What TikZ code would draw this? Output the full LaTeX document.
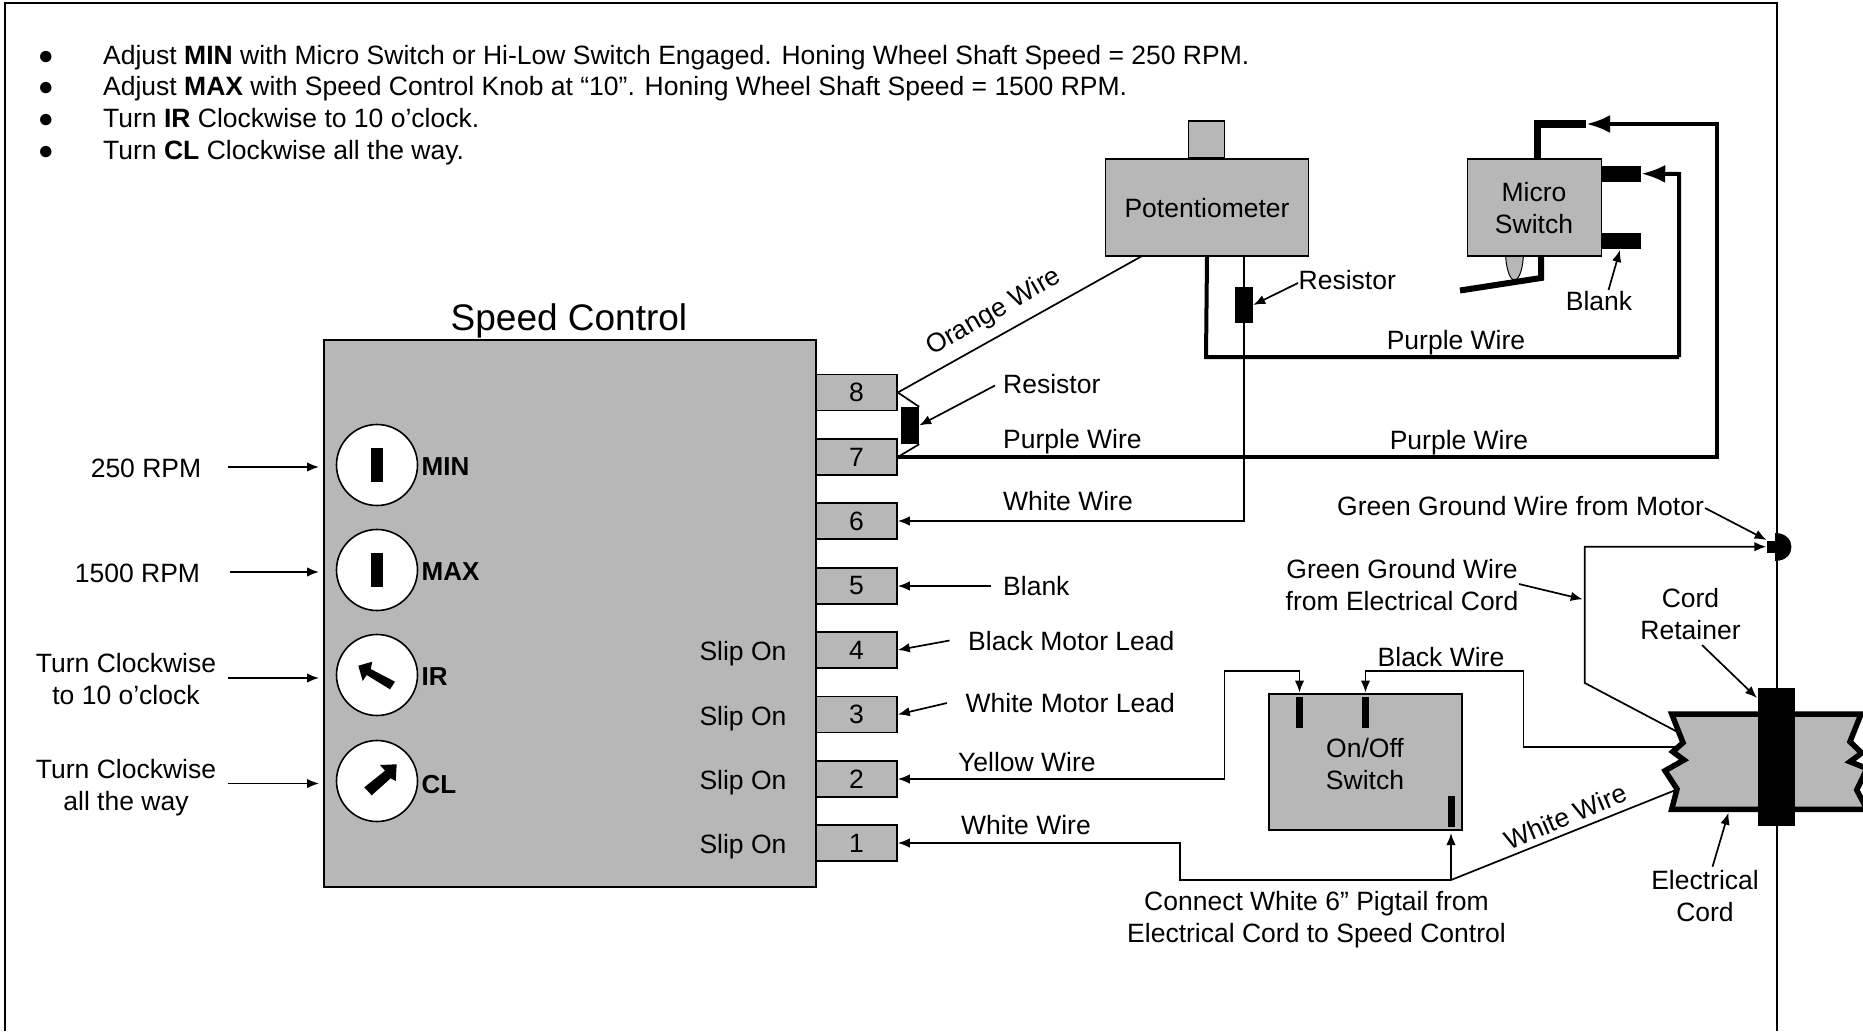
\documentclass[tikz,border=0pt]{standalone}
\usepackage{fontspec}
\setmainfont{Liberation Sans}
\usetikzlibrary{arrows.meta}

\tikzset{
	txt/.style={inner sep=0pt, font=\fontsize{26.5}{32}\selectfont, align=center},
	bulletmark/.style={inner sep=0pt, font=\fontsize{26.5}{32}\selectfont},
	graybox/.style={draw=black, fill=boxgray, line width=1.6pt, inner sep=0pt, rectangle},
	termbox/.style={graybox, minimum width=81pt, minimum height=36pt},
	dial/.style={draw=black, fill=white, line width=1.6pt, circle, minimum size=81pt, inner sep=0pt},
	blackbar/.style={fill=black, inner sep=0pt, rectangle},
	wire/.style={line width=1.7pt},
	bigwire/.style={line width=4pt},
	tipwire/.style={wire, -{Latex[length=12pt,width=9.5pt]}},
	starttip/.style={wire, {Latex[length=12pt,width=9.5pt]}-},
	bothtip/.style={wire, {Latex[length=12pt,width=9.5pt]}-{Latex[length=12pt,width=9.5pt]}},
	bigtip/.style={bigwire, -{Latex[length=24pt,width=18pt]}}
}
\definecolor{boxgray}{HTML}{B7B7B7}

\begin{document}
\begin{tikzpicture}[x=1pt, y=-1pt]
	\useasboundingbox (0,0) rectangle (1863,1031);
	
	% Page frame
	\draw[line width=1.6pt] (5,1031) -- (5,3) -- (1777,3) -- (1777,1031);
	
	% Notes
	\node[bulletmark, anchor=base] (bul1) at (46,64.5) {●};
	\node[bulletmark, anchor=base] (bul2) at (46,95.5) {●};
	\node[bulletmark, anchor=base] (bul3) at (46,127.5) {●};
	\node[bulletmark, anchor=base] (bul4) at (46,159.5) {●};
	\node[txt, anchor=base west] (note1) at (103,64.5) {Adjust \textbf{MIN} with Micro Switch or Hi-Low Switch Engaged. Honing Wheel Shaft Speed = 250 RPM.};
	\node[txt, anchor=base west] (note2) at (103,95.5) {Adjust \textbf{MAX} with Speed Control Knob at “10”. Honing Wheel Shaft Speed = 1500 RPM.};
	\node[txt, anchor=base west] (note3) at (103,127.5) {Turn \textbf{IR} Clockwise to 10 o’clock.};
	\node[txt, anchor=base west] (note4) at (103,159.5) {Turn \textbf{CL} Clockwise all the way.};
	
	% Speed control
	\node[graybox, minimum width=492pt, minimum height=547pt] (speedctrl) at (570,613.5) {};
	\node[txt, font=\fontsize{37}{40}\selectfont] (speedlbl) at (569,320.5) {Speed Control};
	\node[termbox] (t8) at (856.5,392.5) {\fontsize{26.5}{32}\selectfont 8};
	\node[termbox] (t7) at (856.5,457) {\fontsize{26.5}{32}\selectfont 7};
	\node[termbox] (t6) at (856.5,521) {\fontsize{26.5}{32}\selectfont 6};
	\node[termbox] (t5) at (856.5,586) {\fontsize{26.5}{32}\selectfont 5};
	\node[termbox] (t4) at (856.5,650) {\fontsize{26.5}{32}\selectfont 4};
	\node[termbox] (t3) at (856.5,714.5) {\fontsize{26.5}{32}\selectfont 3};
	\node[termbox] (t2) at (856.5,779) {\fontsize{26.5}{32}\selectfont 2};
	\node[termbox] (t1) at (856.5,843) {\fontsize{26.5}{32}\selectfont 1};
	\node[txt] (slip4) at (743,653.5) {Slip On};
	\node[txt] (slip3) at (743,718.5) {Slip On};
	\node[txt] (slip2) at (743,782.5) {Slip On};
	\node[txt] (slip1) at (743,846.5) {Slip On};
	
	% Dials
	\node[dial] (dmin) at (377,465) {};
	\node[dial] (dmax) at (377,570) {};
	\node[dial] (dir) at (377,675) {};
	\node[dial] (dcl) at (377,781) {};
	\node[blackbar, minimum width=12pt, minimum height=34pt] (slotmin) at (377,465) {};
	\node[blackbar, minimum width=12pt, minimum height=34pt] (slotmax) at (377,569.5) {};
	\fill (358.3,665.7) -- (372.3,661.7) -- (370.7,669) -- (395,681.7) -- (390,689.3) -- (366.7,675) -- (362.7,681) -- cycle;
	\fill (396.7,764.3) -- (380,765) -- (385,770.7) -- (364.3,787.3) -- (371.7,795.3) -- (390.7,778.3) -- (395.7,781) -- cycle;
	\node[txt, anchor=west, font=\fontsize{26}{32}\selectfont\bfseries] (lmin) at (421.5,467) {MIN};
	\node[txt, anchor=west, font=\fontsize{26}{32}\selectfont\bfseries] (lmax) at (421.5,572) {MAX};
	\node[txt, anchor=west, font=\fontsize{26}{32}\selectfont\bfseries] (lir) at (421.5,677) {IR};
	\node[txt, anchor=west, font=\fontsize{26}{32}\selectfont\bfseries] (lcl) at (421.5,785) {CL};
	
	% Dial settings
	\node[txt] (rpmlow) at (146,468) {250 RPM};
	\node[txt] (rpmhigh) at (137.5,573) {1500 RPM};
	\node[txt] (turnten) at (126,679) {Turn Clockwise\\to 10 o’clock};
	\node[txt] (turnall) at (126,787.5) {Turn Clockwise\\all the way};
	\coordinate (arlow) at (228,467);
	\coordinate (arhigh) at (230,572);
	\coordinate (arten) at (228,678);
	\coordinate (arall) at (228,783.5);
	\draw[tipwire] (arlow) -- (319,467);
	\draw[tipwire] (arhigh) -- (319,572);
	\draw[tipwire] (arten) -- (319,678);
	\draw[tipwire] (arall) -- (319,783.5);
	
	% Potentiometer
	\node[graybox, minimum width=36pt, minimum height=37pt] (knob) at (1206.5,139.5) {};
	\node[graybox, minimum width=203pt, minimum height=97pt] (pot) at (1207,207.5) {};
	\node[txt] (potlbl) at (1207,208) {Potentiometer};
	\node[blackbar, minimum width=18pt, minimum height=36pt] (rs2) at (1244,305) {};
	\node[txt, anchor=west] (rs2lbl) at (1298.5,280) {Resistor};
	\coordinate (rs2ar) at (1298,283);
	\draw[tipwire] (rs2ar) -- (rs2.east);
	
	% Micro switch
	\draw[fill=boxgray, line width=1pt] (1514.5,251) ellipse (9pt and 29pt);
	\draw[line width=6pt, line join=miter] (1541,256) -- (1541,278) -- (1460,290.5);
	\node[graybox, minimum width=134pt, minimum height=97pt] (micro) at (1534.5,207.5) {};
	\node[txt] (microlbl) at (1534,208) {Micro\\Switch};
	\node[blackbar, minimum width=40pt, minimum height=16pt] (mterm2) at (1621,173.7) {};
	\node[blackbar, minimum width=40pt, minimum height=16pt] (mterm3) at (1621,241) {};
	\node[blackbar, minimum width=48pt, minimum height=8pt] (mterm1) at (1562,124) {};
	\draw[line width=7pt] (1537.5,159) -- (1537.5,120);
	\node[txt] (blanklbl) at (1599,301) {Blank};
	\coordinate (blankar) at (1608.5,290);
	\draw[tipwire] (blankar) -- (1620,250);
	
	% Purple wires
	\coordinate (pa) at (1206,357);
	\coordinate (pb) at (1679,357);
	\coordinate (pc) at (1679,174);
	\coordinate (pd) at (1717,457);
	\coordinate (pe) at (1717,124);
	\draw[bigwire] (pot.south) -- (pa) -- (pb);
	\draw[bigtip] (pb) -- (pc) -- (mterm2.east);
	\draw[bigtip] (t7.east) -- (pd) -- (pe) -- (mterm1.east);
	\node[txt] (purple1) at (1456,342.5) {Purple Wire};
	\node[txt] (purple2) at (1459,442.5) {Purple Wire};
	\node[txt, anchor=west] (purple3) at (1003,441.5) {Purple Wire};
	
	% Wires on the terminals
	\node[blackbar, minimum width=18pt, minimum height=37pt] (rs1) at (910,425.5) {};
	\coordinate (potor) at (1142,256);
	\coordinate (rs1ar) at (995,385.5);
	\draw[wire] (t8.east) -- (potor);
	\draw[wire] (t8.east) -- (rs1.north east);
	\draw[wire] (t7.east) -- (rs1.south east);
	\draw[tipwire] (rs1ar) -- (rs1.east);
	\node[txt, anchor=west] (rs1lbl) at (1003,384) {Resistor};
	\node[txt, rotate=30] (orange) at (994,312.5) {Orange Wire};
	\draw[tipwire] (pot.south -| rs2) -- (rs2 |- t6.east) -- (t6.east);
	\node[txt, anchor=west] (white6) at (1003,501) {White Wire};
	\node[txt, anchor=west] (blank5) at (1003,586) {Blank};
	\coordinate (ar5) at (991,586);
	\draw[tipwire] (ar5) -- (t5.east);
	\node[txt, anchor=west] (black4) at (968,641) {Black Motor Lead};
	\coordinate (ar4) at (949.5,640.5);
	\draw[tipwire] (ar4) -- (t4.east);
	\node[txt, anchor=west] (white3) at (965.5,703) {White Motor Lead};
	\coordinate (ar3) at (947,703);
	\draw[tipwire] (ar3) -- (t3.east);
	\node[txt, anchor=west] (yellow2) at (958,762) {Yellow Wire};
	\node[txt, anchor=west] (white1) at (961,825.5) {White Wire};
	
	% On/Off switch
	\node[graybox, minimum width=193pt, minimum height=136pt] (onoff) at (1365.5,762) {};
	\node[txt] (onofflbl) at (1365,764) {On/Off\\Switch};
	\node[blackbar, minimum width=7pt, minimum height=31pt] (sw1) at (1299.5,712) {};
	\node[blackbar, minimum width=7pt, minimum height=31pt] (sw2) at (1365.5,712) {};
	\node[blackbar, minimum width=7pt, minimum height=31pt] (sw3) at (1451,811.5) {};
	\coordinate (ya) at (1224.6,779);
	\coordinate (yb) at (1224.6,671);
	\coordinate (yc) at (1299.5,671);
	\draw[bothtip] (t2.east) -- (ya) -- (yb) -- (yc) -- (1299.5,692.5);
	\coordinate (ba) at (1678,746.7);
	\coordinate (bb) at (1523.5,746.7);
	\coordinate (bc) at (1523.5,671);
	\coordinate (bd) at (1365.5,671);
	\draw[tipwire] (ba) -- (bb) -- (bc) -- (bd) -- (1365.5,692.5);
	\node[txt] (blackw) at (1441,657) {Black Wire};
	\coordinate (wa) at (1180,843);
	\coordinate (wb) at (1180,880);
	\coordinate (wc) at (1451,880);
	\coordinate (wd) at (1675.7,790);
	\draw[starttip] (t1.east) -- (wa) -- (wb) -- (wc) -- (wd);
	\draw[tipwire] (wc) -- (1451,833);
	\node[txt, rotate=23] (whitecord) at (1565.7,816.5) {White Wire};
	\node[txt] (pigtail) at (1316.5,920) {Connect White 6” Pigtail from\\Electrical Cord to Speed Control};
	
	% Ground
	\coordinate (ga) at (1676.7,731.5);
	\coordinate (gb) at (1584.8,683);
	\coordinate (gc) at (1584.8,546.7);
	\fill (1775,533) .. controls (1797,533) and (1797,561) .. (1775,561) -- cycle;
	\node[blackbar, minimum width=13pt, minimum height=12pt] (lug) at (1773,546.7) {};
	\draw[tipwire] (ga) -- (gb) -- (gc) -- (lug.west);
	\node[txt, anchor=west] (gndmotor) at (1337,506) {Green Ground Wire from Motor};
	\coordinate (gm) at (1705,508);
	\draw[tipwire] (gm) -- (1766.6,540);
	\node[txt] (gndcord) at (1402,585) {Green Ground Wire\\from Electrical Cord};
	\coordinate (gn) at (1519,584);
	\draw[tipwire] (gn) -- (1582.7,599.3);
	
	% Cord and retainer
	\draw[fill=boxgray, line width=5.5pt, line join=miter] (1671.7,714) -- (1683,742.7) -- (1672.7,751.7) -- (1684,760) -- (1665,770.7) -- (1677,789) -- (1671.7,809.3) -- (1867,809.3) -- (1856.7,790) -- (1867,768.5) -- (1850,761.7) -- (1861.7,753) -- (1850,741.7) -- (1861,714) -- cycle;
	\node[blackbar, minimum width=37pt, minimum height=138pt] (retainer) at (1776.5,757) {};
	\node[txt] (retlbl) at (1690.5,614) {Cord\\Retainer};
	\coordinate (ra) at (1702,645);
	\draw[tipwire] (ra) -- (1757,698);
	\node[txt] (cordlbl) at (1705,896) {Electrical\\Cord};
	\coordinate (ea) at (1712.5,866.7);
	\draw[tipwire] (ea) -- (1728.5,812.7);
\end{tikzpicture}
\end{document}
